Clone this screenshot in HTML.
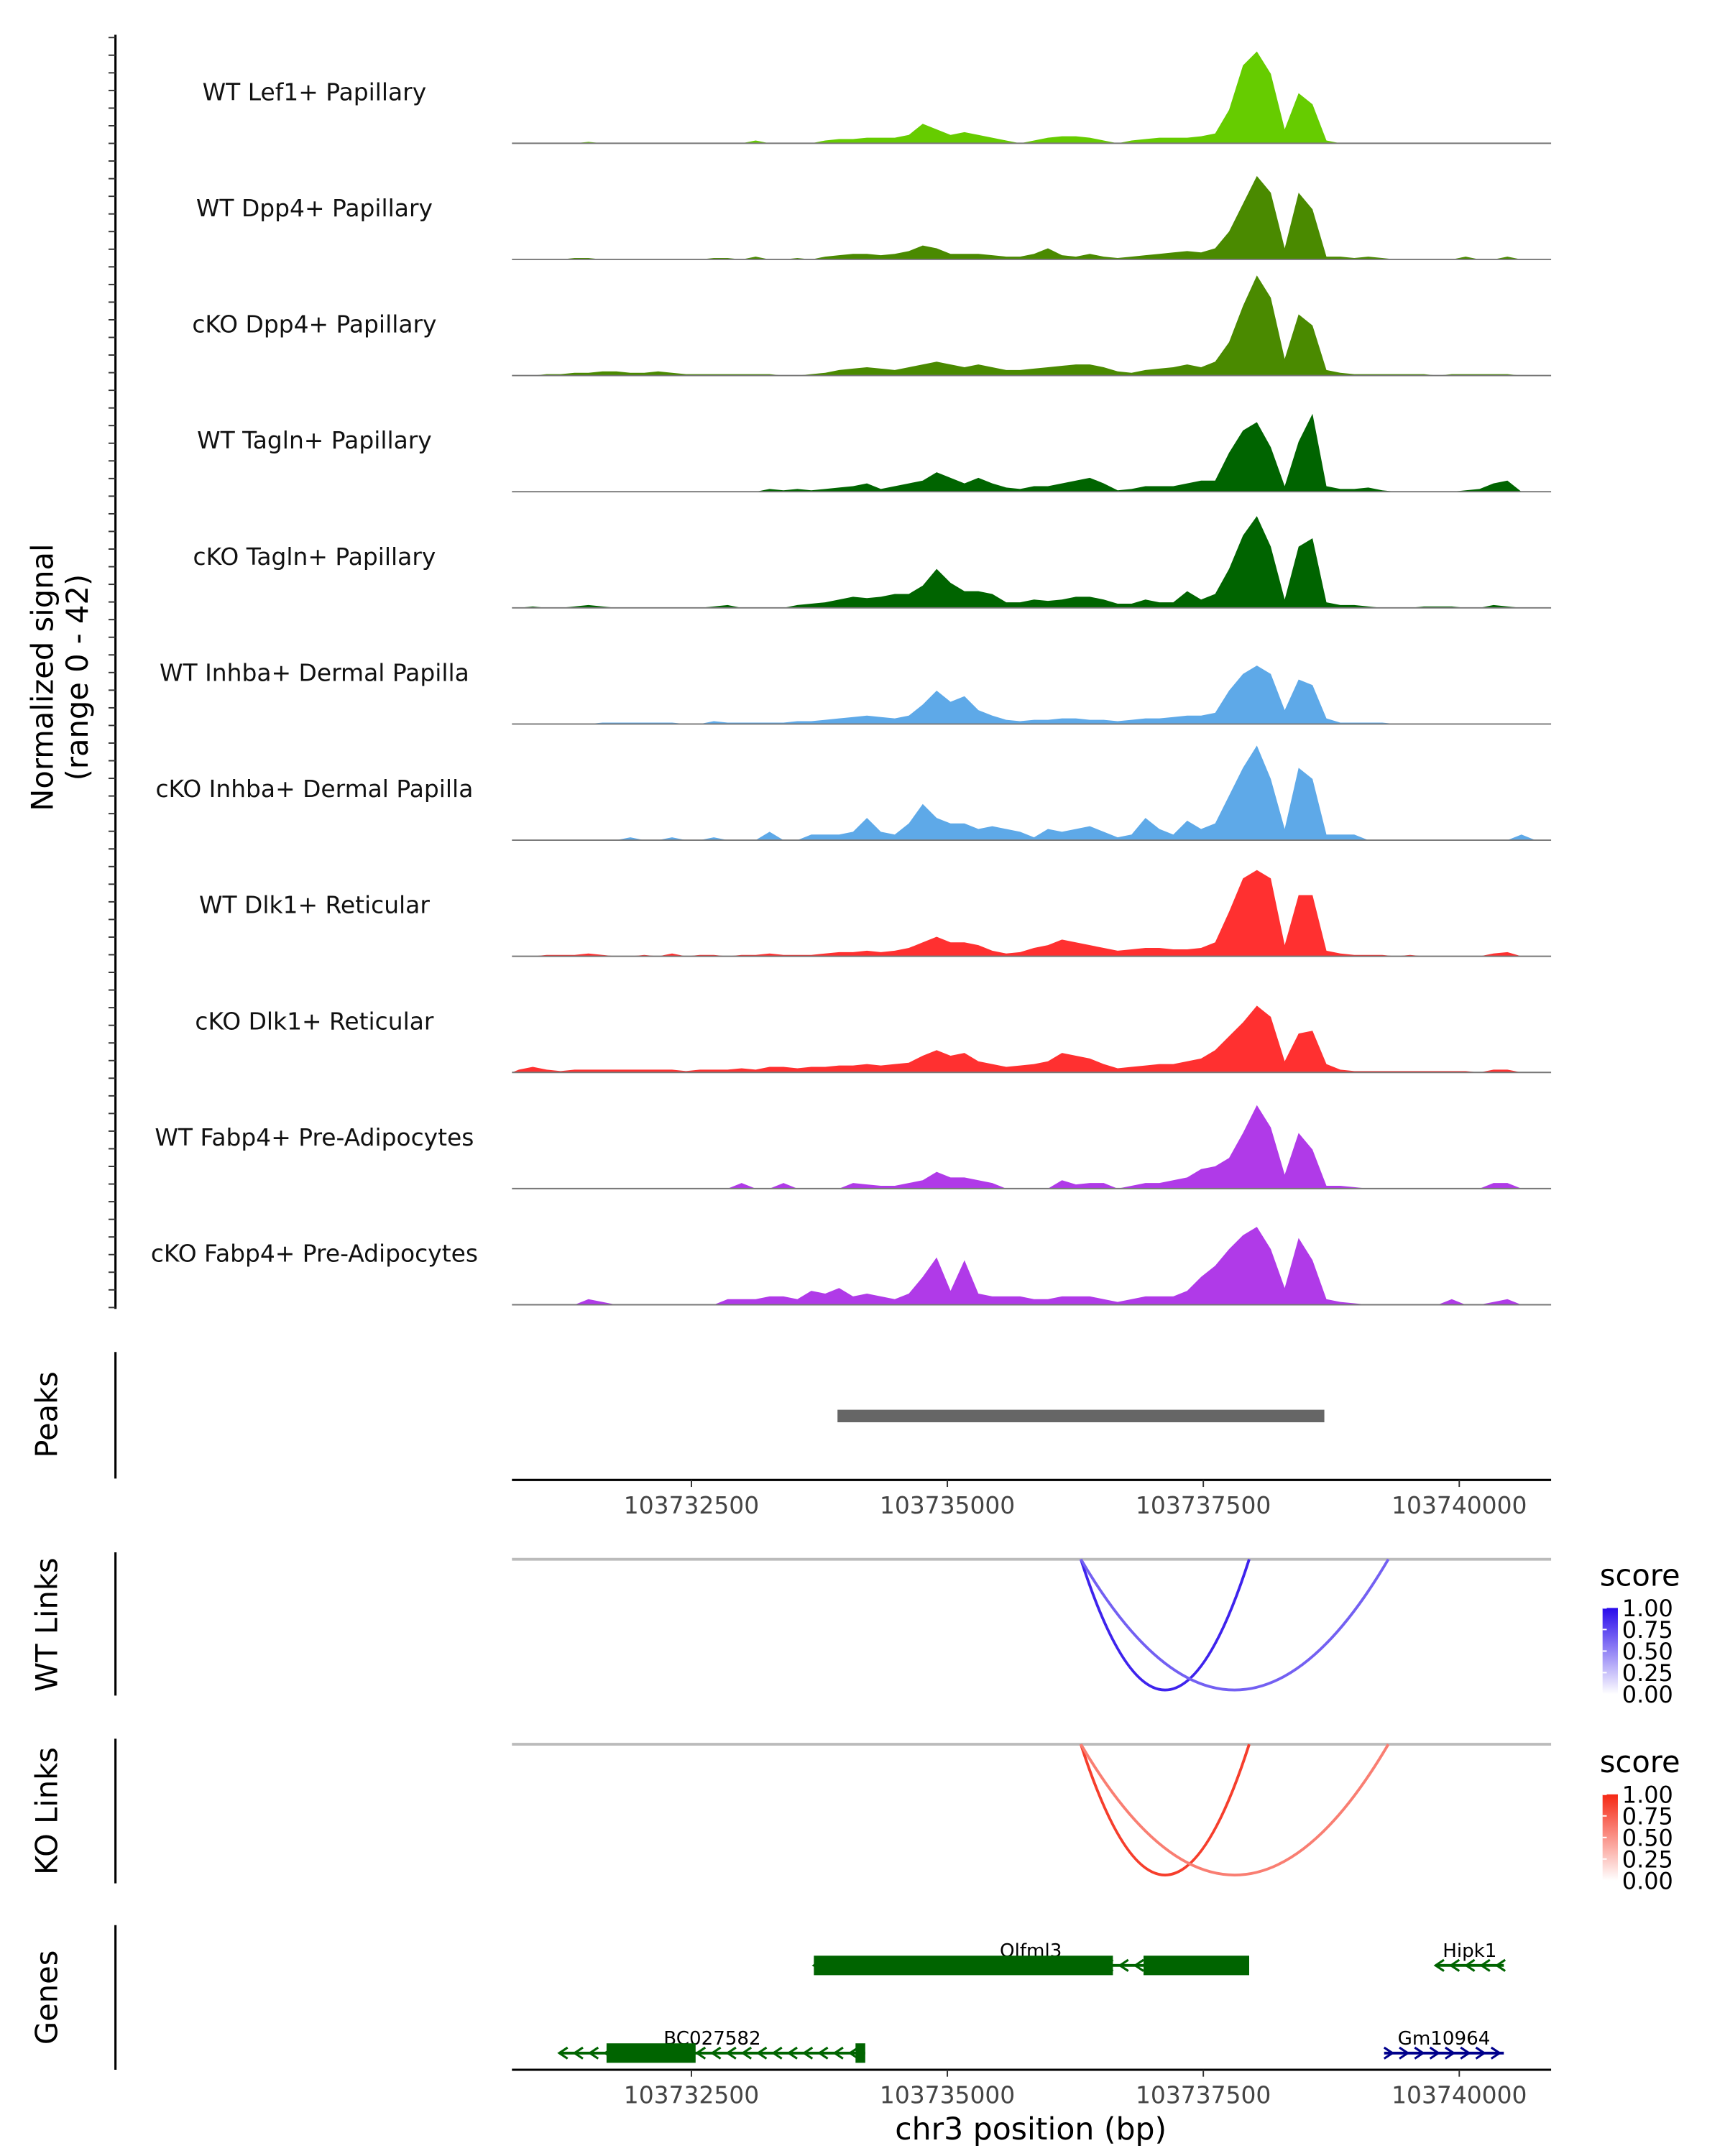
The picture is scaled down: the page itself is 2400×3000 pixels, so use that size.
<!DOCTYPE html>
<html><head><meta charset="utf-8">
<style>
html,body{margin:0;padding:0;background:#fff;}
svg{display:block;font-family:"DejaVu Sans","Liberation Sans",sans-serif;}
</style></head>
<body>
<svg id="chart" width="2400" height="3000" viewBox="0 0 1240 1550" preserveAspectRatio="none" xmlns="http://www.w3.org/2000/svg">
<rect x="0" y="0" width="1240" height="1550" fill="#fff"/>
<g id="tracks"></g>
<g id="lower"></g>
</svg>
<script>
// ---- data ----
const trackLabels = ["WT Lef1+ Papillary","WT Dpp4+ Papillary","cKO Dpp4+ Papillary","WT Tagln+ Papillary","cKO Tagln+ Papillary","WT Inhba+ Dermal Papilla","cKO Inhba+ Dermal Papilla","WT Dlk1+ Reticular","cKO Dlk1+ Reticular","WT Fabp4+ Pre-Adipocytes","cKO Fabp4+ Pre-Adipocytes"];
const trackColors = ["#66cc00","#4a8a00","#4a8a00","#006400","#006400","#5ea9e8","#5ea9e8","#ff3030","#ff3030","#b03ae8","#b03ae8"];
const binStartBp = 103730747;
const binSizeBp = 136;
const sigLef1WT = [0,0,0,0,0,0.5,0,0,0,0,0,0,0,0,0,0,0,1,0,0,0,0,1,1.5,1.5,2,2,2,3,7,5,3,4,3,2,1,0,1,2,2.5,2.5,2,1,0,1,1.5,2,2,2,2.5,3.5,12,28,33,25,5,18,14,1,0,0,0,0,0,0,0,0,0,0,0,0,0,0,0,0];
const sigDpp4WT = [0,0,0,0,0.5,0.5,0,0,0,0,0,0,0,0,0.5,0.5,0,1,0,0,0.5,0,1,1.5,2,2,1.5,2,3,5,4,2,2,2,1.5,1,1,2,4,1.5,1,2,1,0.5,1,1.5,2,2.5,3,2.5,4,10,20,30,24,4,24,18,1,1,0.5,1,0.5,0,0,0,0,0,1,0,0,1,0,0,0];
const sigDpp4KO = [0,0,0.5,0.5,1,1,1.5,1.5,1,1,1.5,1,0.5,0.5,0.5,0.5,0.5,0.5,0.5,0,0,0.5,1,2,2.5,3,2.5,2,3,4,5,4,3,4,3,2,2,2.5,3,3.5,4,4,3,1.5,1,2,2.5,3,4,3,5,12,25,36,28,6,22,18,2,1,0.5,0.5,0.5,0.5,0.5,0.5,0,0.5,0.5,0.5,0.5,0.5,0,0,0];
const sigTaglnWT = [0,0,0,0,0,0,0,0,0,0,0,0,0,0,0,0,0,0,1,0.5,1,0.5,1,1.5,2,3,1,2,3,4,7,5,3,5,3,1.5,1,2,2,3,4,5,3,0.5,1,2,2,2,3,4,4,14,22,25,16,2,18,28,2,1,1,1.5,0.5,0,0,0,0,0,0.5,1,3,4,0,0,0];
const sigTaglnKO = [0,0.5,0,0,0.5,1,0.5,0,0,0,0,0,0,0,0.5,1,0,0,0,0,1,1.5,2,3,4,3.5,4,5,5,8,14,9,6,6,5,2,2,3,2.5,3,4,4,3,1.5,1.5,3,2,2,6,3,5,14,26,33,22,3,22,25,2,1,1,0.5,0,0,0,0.5,0.5,0.5,0,0,1,0.5,0,0,0];
const sigInhbaWT = [0,0,0,0,0,0,0.5,0.5,0.5,0.5,0.5,0.5,0,0,1,0.5,0.5,0.5,0.5,0.5,1,1,1.5,2,2.5,3,2.5,2,3,7,12,8,10,5,3,1.5,1,1.5,1.5,2,2,1.5,1.5,1,1.5,2,2,2.5,3,3,4,12,18,21,18,5,16,14,2,0.5,0.5,0.5,0.5,0,0,0,0,0,0,0,0,0,0,0,0];
const sigInhbaKO = [0,0,0,0,0,0,0,0,1,0,0,1,0,0,1,0,0,0,3,0,0,2,2,2,3,8,3,2,6,13,8,6,6,4,5,4,3,1,4,3,4,5,3,1,2,8,4,2,7,4,6,16,26,34,22,4,26,22,2,2,2,0,0,0,0,0,0,0,0,0,0,0,2,0,0];
const sigDlk1WT = [0,0,0.5,0.5,0.5,1,0.5,0,0,0.5,0,1,0,0.5,0.5,0,0.5,0.5,1,0.5,0.5,0.5,1,1.5,1.5,2,1.5,2,3,5,7,5,5,4,2,1,1.5,3,4,6,5,4,3,2,2.5,3,3,2.5,2.5,3,5,16,28,31,28,4,22,22,2,1,0.5,0.5,0.5,0,0.5,0,0,0,0,0,1,1.5,0,0,0];
const sigDlk1KO = [1,2,1,0.5,1,1,1,1,1,1,1,1,0.5,1,1,1,1.5,1,2,2,1.5,2,2,2.5,2.5,3,2.5,3,3.5,6,8,6,7,4,3,2,2.5,3,4,7,6,5,3,1.5,2,2.5,3,3,4,5,8,13,18,24,20,4,14,15,3,1,0.5,0.5,0.5,0.5,0.5,0.5,0.5,0.5,0.5,0,1,1,0,0,0];
const sigFabp4WT = [0,0,0,0,0,0,0,0,0,0,0,0,0,0,0,0,2,0,0,2,0,0,0,0,2,1.5,1,1,2,3,6,4,4,3,2,0,0,0,0,3,1.5,2,2,0,1,2,2,3,4,7,8,11,20,30,22,5,20,14,1,1,0.5,0,0,0,0,0,0,0,0,0,2,2,0,0,0];
const sigFabp4KO = [0,0,0,0,0,2,1,0,0,0,0,0,0,0,0,2,2,2,3,3,2,5,4,6,3,4,3,2,4,10,17,5,16,4,3,3,3,2,2,3,3,3,2,1,2,3,3,3,5,10,14,20,25,28,20,6,24,16,2,1,0.5,0,0,0,0,0,0,2,0,0,1,2,0,0,0];
const trackSignals = [sigLef1WT,sigDpp4WT,sigDpp4KO,sigTaglnWT,sigTaglnKO,sigInhbaWT,sigInhbaKO,sigDlk1WT,sigDlk1KO,sigFabp4WT,sigFabp4KO];
const axisTicksBp = [103732500,103735000,103737500,103740000];
const peakStarts = [103733927];
const peakEnds = [103738682];
const wtLinkStarts = [103736304,103736304];
const wtLinkEnds = [103737948,103739307];
const wtLinkScores = [0.9,0.65];
const koLinkStarts = [103736304,103736304];
const koLinkEnds = [103737948,103739307];
const koLinkScores = [0.9,0.6];
const geneNames = ["Olfml3","Hipk1","BC027582","Gm10964"];
const geneStarts = [103733696,103739769,103731209,103739266];
const geneEnds = [103737948,103740435,103734198,103740435];
const geneStrands = ["-","-","-","+"];
const geneRows = [0,0,1,1];
const exonGenes = [0,0,2,2];
const exonStarts = [103733696,103736916,103731671,103734103];
const exonEnds = [103736617,103737948,103732541,103734198];

// ---- scales ----
const NS="http://www.w3.org/2000/svg";
const X0=368, X1=1115, BP0=103730747, BP1=103740897;
const xs = bp => X0 + (bp-BP0)/(BP1-BP0)*(X1-X0);
const trackH=83.5, ymax=42, ypx=84;
const ys = (v,base) => base - v/ymax*ypx;
function mk(tag, attrs, parent){const e=document.createElementNS(NS,tag);for(const k in attrs)e.setAttribute(k,attrs[k]);parent.appendChild(e);return e;}
const T=document.getElementById('tracks');
const L=document.getElementById('lower');

let ax=mk('line',{x1:83,y1:25,x2:83,y2:941,stroke:'#000','stroke-width':1.6},T);


for(let i=0;i<=72;i++){const y=27+i*(913/72);const t=mk('line',{x1:78,y1:y,x2:83,y2:y,stroke:'#333','stroke-width':1},T);

}
let yt=mk('text',{x:0,y:0,'font-size':21.5,'text-anchor':'middle',transform:'translate(42,487) rotate(-90)'},T);


mk('tspan',{x:0,dy:-4},yt).textContent='Normalized signal';
mk('tspan',{x:0,dy:25},yt).textContent='(range 0 - 42)';

trackSignals.forEach((arr,ti)=>{
  const base = 103 + ti*trackH;
  let d='M'+xs(binStartBp)+','+base;
  arr.forEach((v,i)=>{const bx=xs(binStartBp+(i+0.5)*binSizeBp);d+=' L'+bx.toFixed(1)+','+ys(v,base).toFixed(1);});
  d+=' L'+xs(binStartBp+arr.length*binSizeBp)+','+base+' Z';
  const p=mk('path',{d:d,fill:trackColors[ti],stroke:'none'},T);
  
  
  const bl=mk('line',{x1:X0,y1:base,x2:X1,y2:base,stroke:'#777','stroke-width':1},T);
  
  
  const lb=mk('text',{x:226,y:base-31,'font-size':17,'text-anchor':'middle',fill:'#111'},T);
  lb.textContent=trackLabels[ti];
  
  
});

function panelAxis(y1,y2,title,cy,name){
  const l=mk('line',{x1:83,y1:y1,x2:83,y2:y2,stroke:'#000','stroke-width':1.6},L);
  
  
  const t=mk('text',{x:0,y:0,'font-size':21.5,'text-anchor':'middle',transform:'translate(41,'+cy+') rotate(-90)'},L);
  t.textContent=title;
  
  
}
panelAxis(972,1063,'Peaks',1017,'peaks');
panelAxis(1116,1219,'WT Links',1168,'wt-links');
panelAxis(1250,1354,'KO Links',1302,'ko-links');
panelAxis(1384,1488,'Genes',1436,'genes');

peakStarts.forEach((s,i)=>{const r=mk('rect',{x:xs(s),y:1013.5,width:xs(peakEnds[i])-xs(s),height:9,fill:'#666'},L);

});

function xAxis(y,name){
  const l=mk('line',{x1:X0,y1:y,x2:X1,y2:y,stroke:'#000','stroke-width':1.6},L);
  
  
  axisTicksBp.forEach(b=>{const x=xs(b);mk('line',{x1:x,y1:y,x2:x,y2:y+5,stroke:'#333','stroke-width':1},L);
    const t=mk('text',{x:x,y:y+24,'font-size':17,'text-anchor':'middle',fill:'#444'},L);t.textContent=b;
    
    });
}
xAxis(1064,'peaks-x-axis');
xAxis(1488,'genes-x-axis');
const xt=mk('text',{x:741,y:1538,'font-size':22,'text-anchor':'middle'},L);xt.textContent='chr3 position (bp)';



function mix(c,s){return 'rgb('+c.map(v=>Math.round(255+(v-255)*s)).join(',')+')';}
function links(starts,ends,scores,top,rgb,name){
  const g=mk('line',{x1:X0,y1:top,x2:X1,y2:top,stroke:'#bbb','stroke-width':2},L);
  
  
  starts.forEach((s,i)=>{const a=xs(s),b=xs(ends[i]);const depth=94;
    const p=mk('path',{d:'M'+a+','+top+' Q'+((a+b)/2)+','+(top+2*depth)+' '+b+','+top,fill:'none',stroke:mix(rgb,scores[i]),'stroke-width':2},L);
    
    });
}
links(wtLinkStarts,wtLinkEnds,wtLinkScores,1121,[40,10,235],'wt-link');
links(koLinkStarts,koLinkEnds,koLinkScores,1254,[245,40,20],'ko-link');

const defs=mk('defs',{},L);
function legend(y,rgb,id){
  const lg=mk('linearGradient',{id:id,x1:0,y1:1,x2:0,y2:0},defs);
  mk('stop',{offset:0,'stop-color':'#fff'},lg);mk('stop',{offset:1,'stop-color':'rgb('+rgb.join(',')+')'},lg);
  const t=mk('text',{x:1150,y:y,'font-size':21.5},L);t.textContent='score';
  
  
  const r=mk('rect',{x:1152,y:y+16,width:11,height:62,fill:'url(#'+id+')'},L);
  
  
  ['1.00','0.75','0.50','0.25','0.00'].forEach((s,i)=>{const yy=y+16+i*15.5;
    mk('line',{x1:1152,y1:yy,x2:1155,y2:yy,stroke:'#fff'},L);
    const tt=mk('text',{x:1166,y:yy+6,'font-size':16.5},L);tt.textContent=s;
    
    });
}
legend(1140,[40,10,235],'gw');
legend(1274,[245,40,20],'gk');

const rowY=[1413,1476];
geneNames.forEach((n,i)=>{
  const y=rowY[geneRows[i]], a=xs(geneStarts[i]), b=xs(geneEnds[i]);
  const col = geneStrands[i]==='+' ? '#00008b' : '#006400';
  const l=mk('line',{x1:a,y1:y,x2:b,y2:y,stroke:col,'stroke-width':2},L);
  
  
  for(let x=a+3;x<b-2;x+=11){const dir=geneStrands[i]==='+'?1:-1;
    mk('path',{d:'M'+(x-3*dir)+','+(y-4)+' L'+(x+3*dir)+','+y+' L'+(x-3*dir)+','+(y+4),fill:'none',stroke:col,'stroke-width':1.6},L);}
  const t=mk('text',{x:(i===0?741:i===2?512:(a+b)/2),y:y-6,'font-size':13.5,'text-anchor':'middle'},L);t.textContent=n;
  
  
});
exonStarts.forEach((s,i)=>{const y=rowY[geneRows[exonGenes[i]]];
  const r=mk('rect',{x:xs(s),y:y-7,width:xs(exonEnds[i])-xs(s),height:14,fill:'#006400'},L);
  
  });
</script>
</body></html>
